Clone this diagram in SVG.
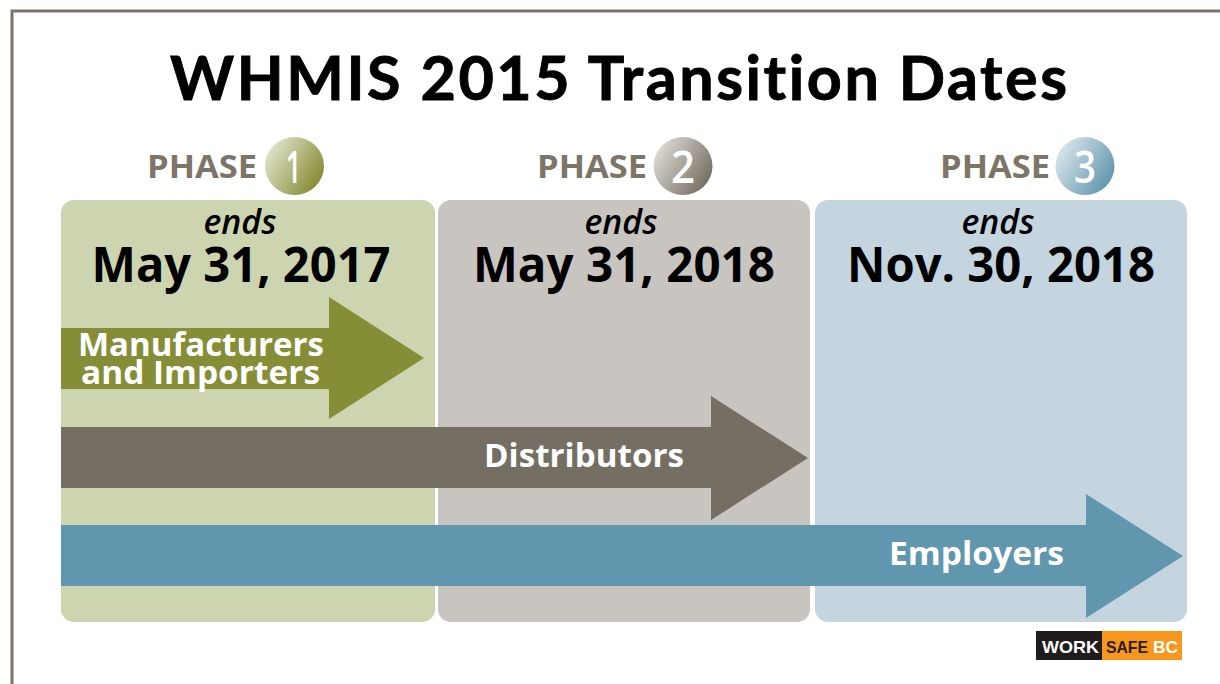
<svg xmlns="http://www.w3.org/2000/svg" width="1220" height="684" viewBox="0 0 1220 684">
<style>
.phase{font:bold 32px "Open Sans","Liberation Sans",sans-serif;fill:#7d7568}
.ends{font:italic 600 34px "Open Sans","Liberation Sans",sans-serif;fill:#000;text-anchor:middle}
.date{font:bold 48px "Open Sans","Liberation Sans",sans-serif;fill:#000;text-anchor:middle}
.lab{font:bold 32px "Open Sans","Liberation Sans",sans-serif;fill:#fff;text-anchor:middle}
.num{font:600 45px "Open Sans","Liberation Sans",sans-serif;fill:#fff;text-anchor:middle}
.logo{font:bold 17px "Liberation Sans",sans-serif}
#title{font-variant-ligatures:none;stroke:#000;stroke-width:.9}
</style>
<defs>
<linearGradient id="g1" x1="0" y1="0.2" x2="1" y2="0.8"><stop offset="0" stop-color="#e4e8d2"/><stop offset="1" stop-color="#80852a"/></linearGradient>
<linearGradient id="g2" x1="0" y1="0.2" x2="1" y2="0.8"><stop offset="0" stop-color="#e2dfda"/><stop offset="1" stop-color="#6f675b"/></linearGradient>
<linearGradient id="g3" x1="0" y1="0.2" x2="1" y2="0.8"><stop offset="0" stop-color="#dfe9ef"/><stop offset="1" stop-color="#5a91aa"/></linearGradient>
</defs>
<rect width="1220" height="684" fill="#fff"/>
<path d="M1220 11H12V684" fill="none" stroke="#7d7568" stroke-width="3"/>
<text id="title" x="170" y="100" font-family="Lato,'Liberation Sans',sans-serif" font-weight="700" font-size="61" textLength="897" lengthAdjust="spacing">WHMIS 2015 Transition Dates</text>
<g id="phase1">
<rect x="61" y="200" width="374" height="422" rx="13" fill="#cdd5b0"/>
<text class="phase" x="147" y="178" textLength="110" lengthAdjust="spacingAndGlyphs">PHASE</text>
<ellipse cx="294.500" cy="166" rx="29.500" ry="29" fill="url(#g1)"/>
<text class="num" x="293.500" y="183" textLength="16" lengthAdjust="spacingAndGlyphs">1</text>
<text class="ends" x="240" y="234" textLength="73" lengthAdjust="spacingAndGlyphs">ends</text>
<text class="date" x="241" y="282" textLength="299" lengthAdjust="spacingAndGlyphs">May 31, 2017</text>
</g>
<g id="phase2">
<rect x="438" y="200" width="372" height="422" rx="13" fill="#c8c4bf"/>
<text class="phase" x="537" y="178" textLength="110" lengthAdjust="spacingAndGlyphs">PHASE</text>
<ellipse cx="683" cy="166" rx="29.500" ry="29" fill="url(#g2)"/>
<text class="num" x="683" y="183" textLength="24" lengthAdjust="spacingAndGlyphs">2</text>
<text class="ends" x="621" y="234" textLength="73" lengthAdjust="spacingAndGlyphs">ends</text>
<text class="date" x="624" y="282" textLength="302" lengthAdjust="spacingAndGlyphs">May 31, 2018</text>
</g>
<g id="phase3">
<rect x="815" y="200" width="372" height="422" rx="13" fill="#c4d5e0"/>
<text class="phase" x="940" y="178" textLength="110" lengthAdjust="spacingAndGlyphs">PHASE</text>
<ellipse cx="1085" cy="166" rx="29.500" ry="29" fill="url(#g3)"/>
<text class="num" x="1085" y="183" textLength="22" lengthAdjust="spacingAndGlyphs">3</text>
<text class="ends" x="998" y="234" textLength="73" lengthAdjust="spacingAndGlyphs">ends</text>
<text class="date" x="1001" y="282" textLength="308" lengthAdjust="spacingAndGlyphs">Nov. 30, 2018</text>
</g>
<g id="connectors">
<path d="M61 328H329V297L424 358 329 419V389H61Z" fill="#858d36"/>
<path d="M61 427H711V396L808 458 711 520V488H61Z" fill="#756e62"/>
<path d="M61 525H1086V494L1183 556 1086 618V586H61Z" fill="#6096ae"/>
</g>
<g id="manufacturers"><text class="lab" x="201" y="356" textLength="246" lengthAdjust="spacingAndGlyphs">Manufacturers</text><text class="lab" x="200.500" y="384" textLength="239" lengthAdjust="spacingAndGlyphs">and Importers</text></g>
<g id="distributors"><text class="lab" x="584" y="467" textLength="200" lengthAdjust="spacingAndGlyphs">Distributors</text></g>
<g id="employers"><text class="lab" x="976.500" y="565" textLength="175" lengthAdjust="spacingAndGlyphs">Employers</text></g>
<g id="logo">
<rect x="1036" y="631" width="66" height="29" fill="#1f1c1b"/>
<rect x="1102" y="631" width="80" height="29" fill="#f7971d"/>
<text class="logo" x="1042" y="653" fill="#fff" textLength="57" lengthAdjust="spacingAndGlyphs">WORK</text>
<text class="logo" x="1106" y="653" fill="#2a2018" textLength="42" lengthAdjust="spacingAndGlyphs">SAFE</text>
<text class="logo" x="1153" y="653" fill="#fff" textLength="25" lengthAdjust="spacingAndGlyphs">BC</text>
</g>
</svg>
